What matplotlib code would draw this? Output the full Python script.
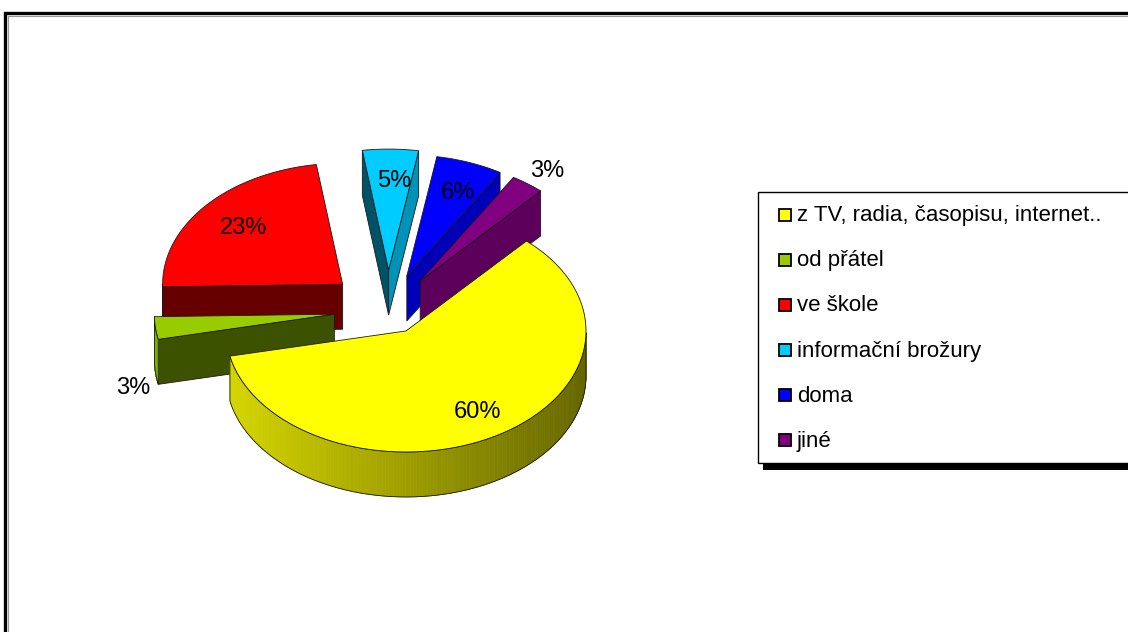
import numpy as np
import matplotlib
matplotlib.use('Agg')
import matplotlib.pyplot as plt
from matplotlib.patches import Polygon, Rectangle
from matplotlib.colors import to_rgb

# data
labels = ['z TV, radia, časopisu, internet..', 'od přátel', 've škole',
          'informační brožury', 'doma', 'jiné']
values = [60, 3, 23, 5, 6, 3]
colors = ['#FFFF00', '#99CC00', '#FF0000', '#00CCFF', '#0000FF', '#800080']
explode = [0.2, 0.3, 0.33, 0.33, 0.3, 0.3]

# layout (pixels)
W, H = 1128, 632
CX, CY = 388, 310        # pie centre (top surface)
RX, RY = 180, 121        # ellipse radii
DEPTH = 45               # thickness of the pie
START = 48               # angle where first slice starts, clockwise
EDGE = '#1a1a1a'
FONT = 'Liberation Sans'

plt.rcParams['font.family'] = FONT


def shade(color, k):
    return tuple(np.clip(np.array(to_rgb(color)) * k, 0, 1))


def proj(u, v, z=0.0):
    return CX + RX * np.asarray(u), CY - RY * np.asarray(v) + z


fig = plt.figure(figsize=(W / 100, H / 100), dpi=100)
ax = fig.add_axes([0, 0, 1, 1])
ax.set_xlim(0, W)
ax.set_ylim(H, 0)
ax.axis('off')

# outer frame (only top and left edges are inside the picture)
ax.plot([5, 5, W], [H, 13, 13], color='black', lw=2.4, solid_joinstyle='miter', zorder=0)
ax.plot([7.5, 7.5, W], [H, 15.5, 15.5], color='#999999', lw=0.8, zorder=0)

# slice geometry
total = float(sum(values))
slices = []
beta = START
for i, v in enumerate(values):
    alpha = beta - v / total * 360
    mid = np.radians((alpha + beta) / 2)
    slices.append(dict(i=i, a=alpha, b=beta, mid=mid,
                       ou=explode[i] * np.cos(mid), ov=explode[i] * np.sin(mid)))
    beta = alpha

# paint from back to front
order = sorted(slices, key=lambda s: -np.sin(s['mid']))
z = 1
for s in order:
    col = colors[s['i']]
    ou, ov = s['ou'], s['ov']
    t = np.radians(np.linspace(s['a'], s['b'], 240))

    # radial side faces
    for ang, nrm, k in [(s['b'], s['b'] + 90, 0.4), (s['a'], s['a'] - 90, 0.72)]:
        if np.sin(np.radians(nrm)) < 0:
            r = np.radians(ang)
            u = [ou, ou + np.cos(r), ou + np.cos(r), ou]
            v = [ov, ov + np.sin(r), ov + np.sin(r), ov]
            x, y = proj(u, v, np.array([0, 0, DEPTH, DEPTH]))
            ax.add_patch(Polygon(np.c_[x, y], closed=True, fc=shade(col, k),
                                 ec=EDGE, lw=0.6, zorder=z))

    # outer curved side, shaded along the arc
    vis = np.sin(t) < 0
    if vis.sum() > 1:
        tv = t[vis]
        xt, yt = proj(ou + np.cos(tv), ov + np.sin(tv))
        xb, yb = xt, yt + DEPTH
        for k in range(len(tv) - 1):
            kk = 0.62 - 0.22 * np.cos((tv[k] + tv[k + 1]) / 2)
            quad = [[xt[k], yt[k]], [xt[k + 1], yt[k + 1]],
                    [xb[k + 1], yb[k + 1]], [xb[k], yb[k]]]
            c = shade(col, kk)
            ax.add_patch(Polygon(quad, fc=c, ec=c, lw=0.5, zorder=z))
        outline = np.r_[np.c_[xt, yt], np.c_[xb, yb][::-1]]
        ax.add_patch(Polygon(outline, fill=False, ec=EDGE, lw=0.6, zorder=z))

    # top surface
    x, y = proj(np.r_[ou, ou + np.cos(t)], np.r_[ov, ov + np.sin(t)])
    ax.add_patch(Polygon(np.c_[x, y], fc=col, ec=EDGE, lw=0.6, zorder=z + 1))
    z += 2

# percentage labels
for s in slices:
    frac = values[s['i']] / total
    if frac >= 0.05:
        r, dz = 0.75, 0
    else:
        r = 1.15
        dz = 1.25 * DEPTH if np.sin(s['mid']) < 0 else 0
    x, y = proj(s['ou'] + r * np.cos(s['mid']), s['ov'] + r * np.sin(s['mid']), dz)
    ax.text(x + 4, y + 2, f'{round(frac * 100)}%', ha='center', va='center',
            fontsize=17, zorder=50)

# legend box (runs off the right edge like the original)
LEG_X, LEG_Y, LEG_H = 758, 192, 271
ax.add_patch(Rectangle((LEG_X + 5, LEG_Y + 7), W, LEG_H, fc='black', zorder=60))
ax.add_patch(Rectangle((LEG_X, LEG_Y), W, LEG_H, fc='white', ec='black', lw=1, zorder=61))
row = LEG_H / len(labels)
for i, lab in enumerate(labels):
    yc = LEG_Y + row * (i + 0.5)
    ax.add_patch(Rectangle((779, yc - 6), 12, 12, fc=colors[i], ec='black',
                           lw=1.3, zorder=62))
    ax.text(797, yc + 1, lab, ha='left', va='center', fontsize=16, zorder=62)

fig.savefig('out.png', dpi=100)
